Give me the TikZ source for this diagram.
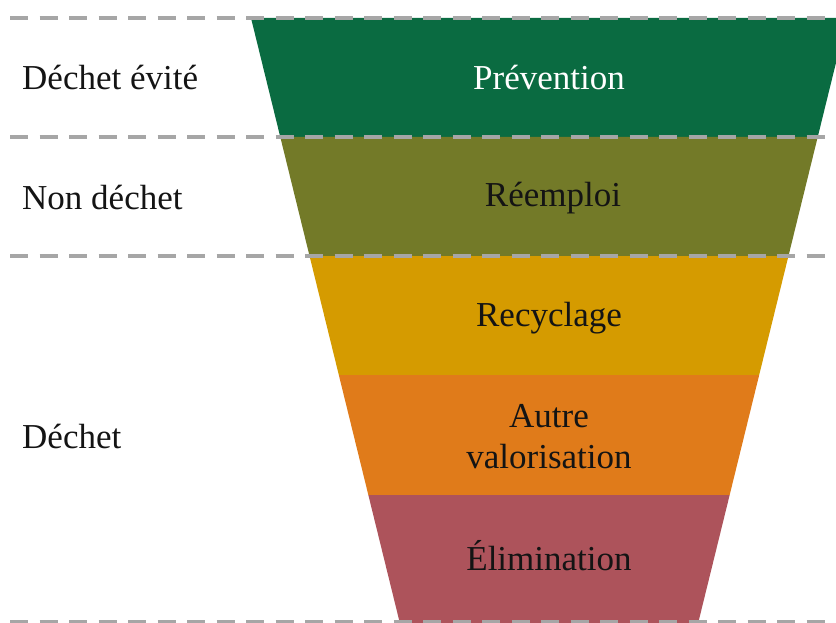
\documentclass[tikz,border=0pt]{standalone}
\usepackage{fontspec}
\setmainfont{Liberation Serif}
\definecolor{prevgreen}{HTML}{0A6B41}
\definecolor{reuseolive}{HTML}{737A28}
\definecolor{recyyellow}{HTML}{D59B00}
\definecolor{valorange}{HTML}{E07B1A}
\definecolor{elimrose}{HTML}{AD535B}
\definecolor{tiergray}{HTML}{A6A6A6}
\begin{document}
\begin{tikzpicture}
        [x=1pt,y=-1pt,every node/.style={inner sep=0pt,text=black!92,font=\fontsize{35}{41}\selectfont},
         tier/.style={draw=tiergray,line width=4pt,dash pattern=on 18pt off 11.5pt}]
        \useasboundingbox (0,0) rectangle (836,623);
        \clip (0,0) rectangle (836,623);
        \foreach \top/\bot/\col in {18/137/prevgreen,137/256/reuseolive,256/375/recyyellow,375/495/valorange,495/623/elimrose}
          \fill[\col] ({251+0.246*(\top-18)},\top) -- ({847-0.246*(\top-18)},\top)
            -- ({847-0.246*(\bot-18)},\bot) -- ({251+0.246*(\bot-18)},\bot) -- cycle;
        \foreach \y in {18,137,256,622}
          \draw[tier] (10,\y) -- (836,\y);
        \node[text=white] (prev) at (549,78)  {Prévention};
        \node (reuse) at (553,198) {Réemploi};
        \node (recy)  at (549,318) {Recyclage};
        \node[align=center] (valo) at (549,437) {Autre\\valorisation};
        \node (elim)  at (549,556) {Élimination};
        \node[anchor=west] (avoid) at (22,78)  {Déchet évité};
        \node[anchor=west] (nonw)  at (22,198) {Non déchet};
        \node[anchor=west] (waste) at (22,437) {Déchet};
      \end{tikzpicture}
\end{document}
